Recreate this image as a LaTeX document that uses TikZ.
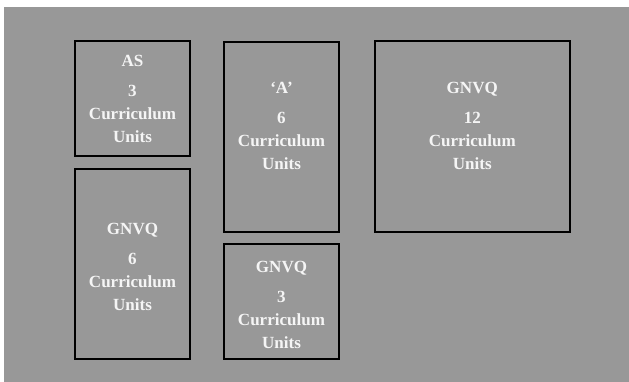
\documentclass[tikz,border=0pt]{standalone}
\usepackage{fontspec}
\setmainfont{Liberation Serif}
\usepackage{xcolor}
\usepackage{tikz}
\usetikzlibrary{positioning}
\definecolor{mygray}{RGB}{152, 152, 152}
\definecolor{mytext}{RGB}{245, 245, 245}

\tikzset{
    unitbox/.style={rectangle, draw=black, line width=1.1pt, inner sep=0pt},
    unittext/.style={anchor=north, inner sep=0pt, align=center, text=mytext,
        font=\bfseries\fontsize{9.7}{13.1}\selectfont}
}

\begin{document}
\begin{tikzpicture}[x=0.02cm, y=-0.02cm]
    % Rahmen und Hintergrund
    \useasboundingbox (0, 0) rectangle (629, 382);
    \fill[mygray] (4, 6.7) rectangle (629, 382);

    % AS
    \node[unitbox, minimum width=2.3cm, minimum height=2.29cm] (asbox) at (132.5, 98.4) {};
    \node[unittext] (astext) at (132.5, 55) {AS\\[4pt] 3\\ Curriculum\\ Units};

    % GNVQ, 6 Einheiten
    \node[unitbox, minimum width=2.3cm, minimum height=3.8cm] (gnvqsix) at (132.5, 263.7) {};
    \node[unittext] (gnvqsixtext) at (132.5, 223) {GNVQ\\[4pt] 6\\ Curriculum\\ Units};

    % 'A'
    \node[unitbox, minimum width=2.3cm, minimum height=3.8cm] (abox) at (281.5, 136.6) {};
    \node[unittext] (atext) at (281.5, 82) {`A'\\[4pt] 6\\ Curriculum\\ Units};

    % GNVQ, 3 Einheiten
    \node[unitbox, minimum width=2.3cm, minimum height=2.29cm] (gnvqthree) at (281.5, 301.5) {};
    \node[unittext] (gnvqthreetext) at (281.5, 261) {GNVQ\\[4pt] 3\\ Curriculum\\ Units};

    % GNVQ, 12 Einheiten
    \node[unitbox, minimum width=3.89cm, minimum height=3.81cm] (gnvqtwelve) at (472.3, 136.4) {};
    \node[unittext] (gnvqtwelvetext) at (472.3, 82) {GNVQ\\[4pt] 12\\ Curriculum\\ Units};
\end{tikzpicture}
\end{document}
